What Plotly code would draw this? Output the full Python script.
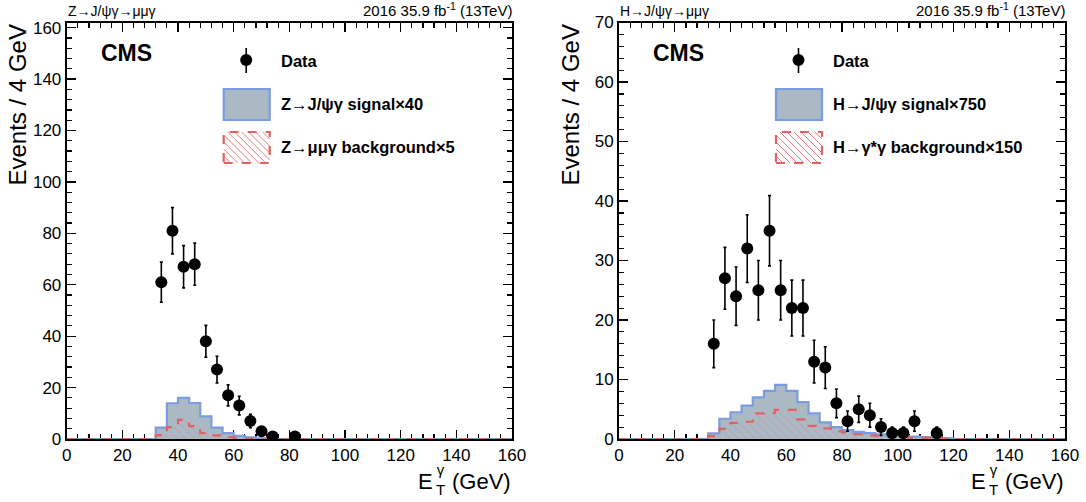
import plotly.graph_objects as go

# ---------------- data ----------------
bin_edges = [0, 4, 8, 12, 16, 20, 24, 28, 32, 36, 40, 44, 48, 52, 56, 60, 64, 68, 72, 76,
             80, 84, 88, 92, 96, 100, 104, 108, 112, 116, 120, 124, 128, 132, 136, 140,
             144, 148, 152, 156, 160]

# Z panel
z_data_x = [34, 38, 42, 46, 50, 54, 58, 62, 66, 70, 74, 82]
z_data_y = [61, 81, 67, 68, 38, 27, 17, 13, 7, 3, 1, 1]
z_data_err = [7.8, 9.0, 8.2, 8.2, 6.2, 5.2, 4.1, 3.6, 2.6, 1.7, 1.0, 1.0]
z_signal = [0, 0, 0, 0, 0, 0, 0, 0, 4.4, 13.9, 16.0, 14.0, 8.8, 4.4, 2.3, 1.2, 0.6, 0.3, 0.1, 0,
            0, 0, 0, 0, 0, 0, 0, 0, 0, 0, 0, 0, 0, 0, 0, 0, 0, 0, 0, 0]
z_background = [0, 0, 0, 0, 0, 0, 0, 0, 1.5, 4.6, 7.4, 5.0, 2.3, 1.4, 0.7, 0.4, 0.2, 0.1, 0, 0,
                0, 0, 0, 0, 0, 0, 0, 0, 0, 0, 0, 0, 0, 0, 0, 0, 0, 0, 0, 0]

# H panel
h_data_x = [34, 38, 42, 46, 50, 54, 58, 62, 66, 70, 74, 78, 82, 86, 90, 94, 98, 102, 106, 114]
h_data_y = [16, 27, 24, 32, 25, 35, 25, 22, 22, 13, 12, 6, 3, 5, 4, 2, 1, 1, 3, 1]
h_data_err = [4.0, 5.2, 4.9, 5.7, 5.0, 5.9, 5.0, 4.7, 4.7, 3.6, 3.5, 2.4, 1.7, 2.2, 2.0, 1.4,
              1.0, 1.0, 1.7, 1.0]
h_signal = [0, 0, 0, 0, 0, 0, 0, 0, 0.95, 3.4, 4.5, 5.6, 7.0, 8.1, 9.1, 8.1, 6.2, 4.3, 2.8, 2.0,
            1.5, 1.2, 1.0, 0.8, 0.6, 0.5, 0.4, 0.3, 0.2, 0.1, 0, 0, 0, 0, 0, 0, 0, 0, 0, 0]
h_background = [0, 0, 0, 0, 0, 0, 0, 0, 0.5, 1.7, 2.7, 2.9, 4.3, 4.4, 4.9, 4.9, 3.3, 2.2, 1.8, 1.3,
                1.1, 0.8, 0.6, 0.5, 0.4, 0.3, 0.2, 0.2, 0.1, 0.1, 0, 0, 0, 0, 0, 0, 0, 0, 0, 0]

x_ticks = [0, 20, 40, 60, 80, 100, 120, 140, 160]
z_y_ticks = [0, 20, 40, 60, 80, 100, 120, 140, 160]
h_y_ticks = [0, 10, 20, 30, 40, 50, 60, 70]

z_labels = ["<b>Data</b>", "<b>Z→J/ψγ signal×40</b>", "<b>Z→μμγ background×5</b>"]
h_labels = ["<b>Data</b>", "<b>H→J/ψγ signal×750</b>", "<b>H→γ*γ background×150</b>"]
z_process = "Z→J/ψγ→μμγ"
h_process = "H→J/ψγ→μμγ"
lumi_text = "2016 35.9 fb<sup>-1</sup> (13TeV)"

# ---------------- style ----------------
W, H = 1086, 502
FONT = "Liberation Sans, Arial, Helvetica, sans-serif"
SIG_FILL = "#aab9c4"
SIG_LINE = "#7b9ddf"
BKG_LINE = "#e06262"
HATCH = "#e47a7a"


def px(x):
    return x / W


def py(y):
    return 1 - y / H


panels = [
    dict(xa="x", ya="y", left=66.7, right=512.0,
         dx=z_data_x, dy=z_data_y, de=z_data_err, sig=z_signal, bkg=z_background,
         labels=z_labels, proc=z_process, ytitle_x=17.0),
    dict(xa="x2", ya="y2", left=619.0, right=1065.0,
         dx=h_data_x, dy=h_data_y, de=h_data_err, sig=h_signal, bkg=h_background,
         labels=h_labels, proc=h_process, ytitle_x=570.0),
]

fig = go.Figure()
shapes = []
annotations = []


def ann(x, y, text, size, xanchor="left", yanchor="middle", **kw):
    d = dict(x=px(x), y=py(y), xref="paper", yref="paper", text=text, showarrow=False,
             xanchor=xanchor, yanchor=yanchor, borderpad=0,
             font=dict(family=FONT, size=size, color="black"))
    d.update(kw)
    annotations.append(d)


for p in panels:
    # signal histogram
    fig.add_trace(go.Scatter(
        x=bin_edges, y=p["sig"] + [p["sig"][-1]], xaxis=p["xa"], yaxis=p["ya"],
        mode="lines", line=dict(shape="hv", color=SIG_LINE, width=2.2),
        fill="tozeroy", fillcolor=SIG_FILL, hoverinfo="skip", showlegend=False))
    # background histogram (hatched)
    fig.add_trace(go.Scatter(
        x=bin_edges, y=p["bkg"] + [p["bkg"][-1]], xaxis=p["xa"], yaxis=p["ya"],
        mode="lines", line=dict(shape="hv", color=BKG_LINE, width=2.2, dash="dash"),
        fill="tozeroy", fillcolor="rgba(0,0,0,0)",
        fillpattern=dict(shape="\\", fgcolor=HATCH, bgcolor="rgba(0,0,0,0)",
                         size=6, solidity=0.15),
        hoverinfo="skip", showlegend=False))
    # data
    fig.add_trace(go.Scatter(
        x=p["dx"], y=p["dy"], xaxis=p["xa"], yaxis=p["ya"], mode="markers",
        marker=dict(color="black", size=12, symbol="circle"),
        error_y=dict(type="data", array=p["de"], visible=True, color="black",
                     thickness=1.6, width=1.5),
        showlegend=False))

    L, R = p["left"], p["right"]
    # process caption & lumi
    ann(L, 20, p["proc"], 14, "left", "bottom")
    ann(R + 1, 20, lumi_text, 15, "right", "bottom")
    # CMS
    ann(L + 33, 53, "<b>CMS</b>", 23, "left", "middle")
    # y title
    ann(p["ytitle_x"], 24, "Events / 4 GeV", 24, "center", "top", textangle=-90)
    # x title: E, stacked gamma/T, (GeV)
    ann(R, 495, "(GeV)", 22, "right", "bottom")
    ann(R - 71.5, 499, "γ<br>T", 15, "center", "bottom")
    ann(R - 78, 495, "E", 22, "right", "bottom")

    # legend
    mx, my = L + 179.5, 60
    shapes.append(dict(type="line", xref="paper", yref="paper", x0=px(mx), x1=px(mx),
                       y0=py(48), y1=py(73), line=dict(color="black", width=1.6)))
    shapes.append(dict(type="circle", xref="paper", yref="paper", x0=px(mx - 6), x1=px(mx + 6),
                       y0=py(my + 6), y1=py(my - 6), fillcolor="black",
                       line=dict(color="black", width=0)))
    bx0, bx1 = L + 157, L + 203
    shapes.append(dict(type="rect", xref="paper", yref="paper", x0=px(bx0), x1=px(bx1),
                       y0=py(120), y1=py(89), fillcolor=SIG_FILL,
                       line=dict(color=SIG_LINE, width=2.2)))
    # hatched box
    hy0, hy1 = 132, 163
    step = 7
    segs = []
    c = -(hy1 - hy0)
    while c < (bx1 - bx0):
        xa_, ya_ = bx0 + c, hy0
        xb_, yb_ = bx0 + c + (hy1 - hy0), hy1
        if xa_ < bx0:
            ya_ = ya_ + (bx0 - xa_)
            xa_ = bx0
        if xb_ > bx1:
            yb_ = yb_ - (xb_ - bx1)
            xb_ = bx1
        if xb_ > xa_:
            segs.append(f"M{px(xa_)},{py(ya_)} L{px(xb_)},{py(yb_)}")
        c += step
    shapes.append(dict(type="path", xref="paper", yref="paper", path=" ".join(segs),
                       line=dict(color=HATCH, width=1)))
    shapes.append(dict(type="rect", xref="paper", yref="paper", x0=px(bx0), x1=px(bx1),
                       y0=py(hy1), y1=py(hy0), fillcolor="rgba(0,0,0,0)",
                       line=dict(color=BKG_LINE, width=2.2, dash="dash")))
    for lab, yy in zip(p["labels"], [61, 104, 147]):
        ann(L + 213, yy, lab, 16.5, "left", "middle")


def axis_common():
    return dict(showgrid=False, zeroline=False, showline=True, linecolor="black", linewidth=2,
                mirror="ticks", ticks="inside", ticklen=9, tickwidth=1.3, tickcolor="black",
                tickfont=dict(family=FONT, size=17, color="black"), layer="below traces",
                automargin=False)


MINOR = dict(ticklen=5, ticks="inside", tickcolor="black", tickwidth=1.2)
xa1 = axis_common()
xa1.update(domain=[px(66.7), px(512.0)], range=[0, 160], tickvals=x_ticks, anchor="y",
           minor=dict(dtick=4, **MINOR))
ya1 = axis_common()
ya1.update(domain=[py(439), py(22.5)], range=[0, 162], tickvals=z_y_ticks, anchor="x",
           minor=dict(dtick=4, **MINOR))
xa2 = axis_common()
xa2.update(domain=[px(619.0), px(1065.0)], range=[0, 160], tickvals=x_ticks, anchor="y2",
           minor=dict(dtick=4, **MINOR))
ya2 = axis_common()
ya2.update(domain=[py(439), py(22.5)], range=[0, 70], tickvals=h_y_ticks, anchor="x2",
           minor=dict(dtick=2, **MINOR))

fig.update_layout(
    width=W, height=H, margin=dict(l=0, r=0, t=0, b=0, autoexpand=False),
    paper_bgcolor="white", plot_bgcolor="white",
    xaxis=xa1, yaxis=ya1, xaxis2=xa2, yaxis2=ya2,
    shapes=shapes, annotations=annotations, showlegend=False,
    font=dict(family=FONT, color="black"), hovermode=False,
)

# remove the browser's default 8px page margin so the figure fills the window exactly
fig.write_html("out.html", config={"displayModeBar": False, "staticPlot": True},
               post_script="document.body.style.margin='0px';document.body.style.overflow='hidden';")
